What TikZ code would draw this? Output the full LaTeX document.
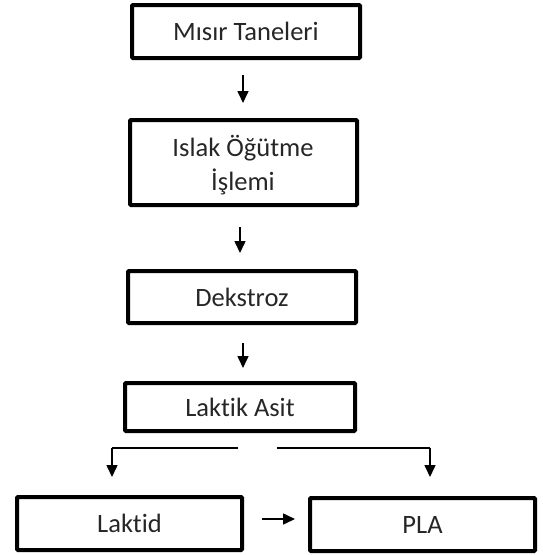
\documentclass[tikz,border=0pt]{standalone}
\usepackage{fontspec}
\setmainfont{Carlito}[Ligatures=NoCommon]
\usetikzlibrary{calc,arrows.meta}
\begin{document}
\begin{tikzpicture}[x=1pt,y=-1pt,
  boxtext/.style={inner sep=0pt,font=\fontsize{26.5}{34}\selectfont,text=black!85,align=center},
  box/.style={draw=black,line width=4pt,rounded corners=1pt,boxtext},
  arr/.style={line width=1.6pt,-{Triangle[length=12pt,width=11pt]}},
  ln/.style={line width=1.6pt}]
\useasboundingbox (0,0) rectangle (543,555);
\node[box,minimum width=228pt,minimum height=53pt] (m) at (246,31.5) {Mısır Taneleri};
\node[box,minimum width=227pt,minimum height=85pt] (i) at (243.5,162.5) {};
\node[boxtext] (it) at ($(i.center)+(-0.5,2.5)$) {Islak Öğütme\\İşlemi};
\node[box,minimum width=228pt,minimum height=52pt] (d) at (242,297) {Dekstroz};
\node[box,minimum width=230pt,minimum height=48pt] (l) at (240,407) {Laktik Asit};
\node[box,minimum width=225pt,minimum height=53pt] (ld) at (129.5,523.5) {Laktid};
\node[box,minimum width=225pt,minimum height=53pt] (p) at (422.5,524.5) {PLA};
\coordinate (c1) at (243,0);
\coordinate (c2) at (240,0);
\coordinate (c3) at (243,0);
\draw[arr,shorten <=15pt,shorten >=15pt] (m.south -| c1) -- (i.north -| c1);
\draw[arr,shorten <=20pt,shorten >=16pt] (i.south -| c2) -- (d.north -| c2);
\draw[arr,shorten <=18pt,shorten >=13pt] (d.south -| c3) -- (l.north -| c3);
\coordinate (la) at (238,448);
\coordinate (lb) at (112,448);
\coordinate (lc) at (112,477);
\coordinate (ra) at (277,448);
\coordinate (rb) at (430,448);
\coordinate (rc) at (430,477);
\draw[ln] (la) -- (lb);
\draw[arr] (lb) -- (lc);
\draw[ln] (ra) -- (rb);
\draw[arr] (rb) -- (rc);
\draw[arr,shorten <=18pt,shorten >=13pt] ($(ld.east)+(0,-4.5)$) -- ($(p.west)+(0,-5.5)$);
\end{tikzpicture}
\end{document}
